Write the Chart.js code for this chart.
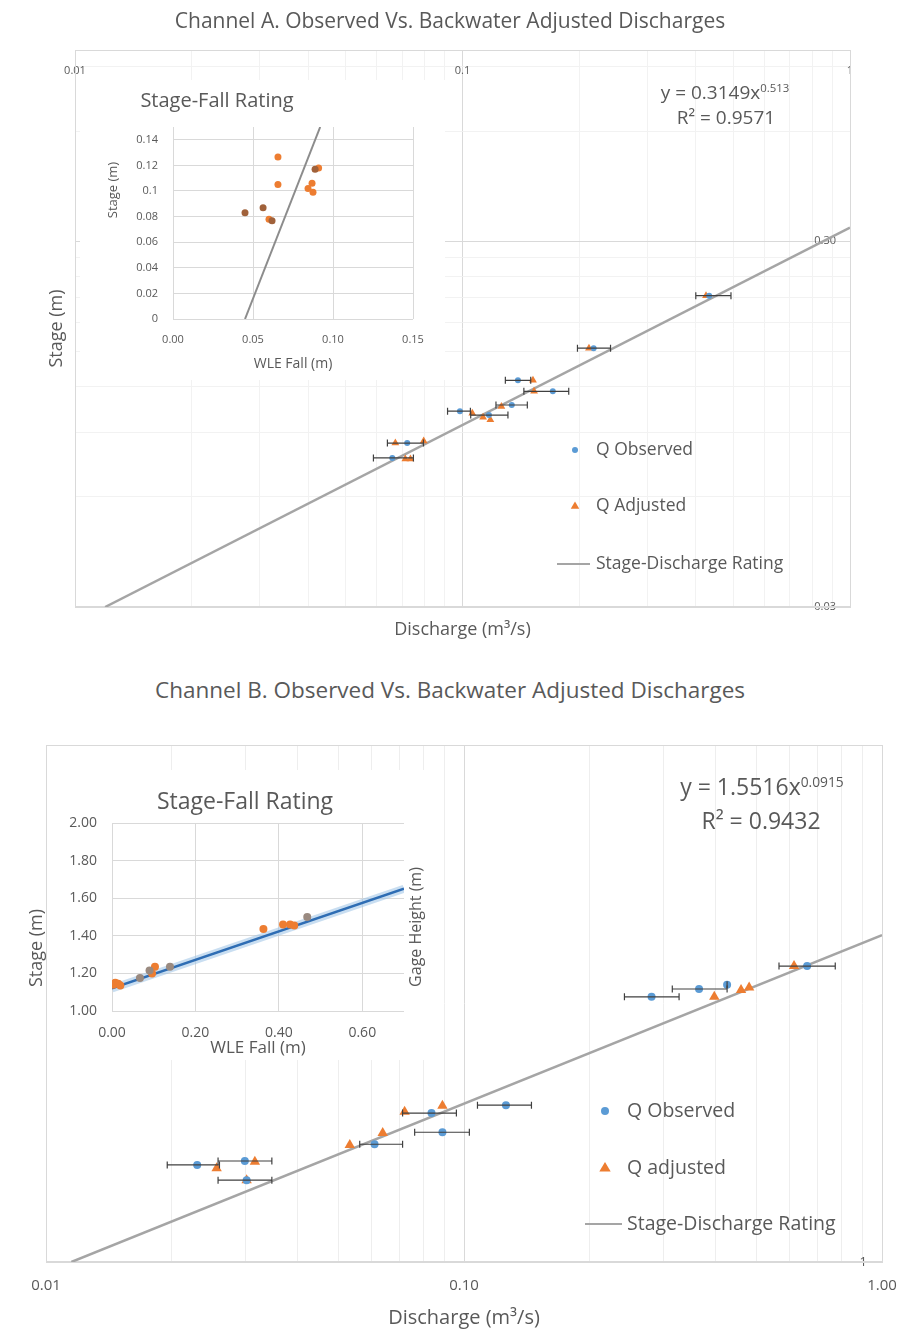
<!DOCTYPE html>
<html>
<head>
<meta charset="utf-8">
<script src="https://cdn.jsdelivr.net/npm/chart.js@4.4.1/dist/chart.umd.min.js"></script>
<style>
    body { margin: 0; background: #fff; font-family: 'Open Sans', sans-serif; color: #595959; }
    #page { position: relative; width: 899px; height: 1331px; overflow: hidden; }
    canvas { position: absolute; }
    .txt { position: absolute; text-align: center; white-space: nowrap; color: #595959; }
    .txt sup { font-size: 60%; vertical-align: 0.6em; }
    .rot { transform: rotate(-90deg); }
</style>
</head>
<body>
<div id="page">
    <canvas id="chartA" width="899" height="650" style="left:0;top:0"></canvas>
    <canvas id="insetA" width="365" height="300" style="left:80px;top:80px;background:#fff"></canvas>
    <div class="txt" style="left:100px;top:6px;width:700px;font-size:21px;line-height:28px">Channel A. Observed Vs. Backwater Adjusted Discharges</div>
    <div class="txt" style="left:117px;top:86px;width:200px;font-size:20px;line-height:28px">Stage-Fall Rating</div>
    <div class="txt rot" style="left:72px;top:182px;width:80px;font-size:13px;line-height:16px">Stage (m)</div>
    <div class="txt" style="left:615px;top:75px;width:220px;font-size:19px;line-height:26px">y = 0.3149x<sup>0.513</sup></div>
    <div class="txt" style="left:616px;top:104px;width:220px;font-size:19px;line-height:26px">R² = 0.9571</div>

    <canvas id="chartB" width="899" height="611" style="left:0;top:720px"></canvas>
    <canvas id="insetB" width="390" height="290" style="left:50px;top:770px;background:#fff"></canvas>
    <div class="txt" style="left:50px;top:674px;width:800px;font-size:22.5px;line-height:32px">Channel B. Observed Vs. Backwater Adjusted Discharges</div>
    <div class="txt" style="left:145px;top:784px;width:200px;font-size:23px;line-height:32px">Stage-Fall Rating</div>
    <div class="txt rot" style="left:340px;top:917px;width:150px;font-size:16px;line-height:20px">Gage Height (m)</div>
    <div class="txt rot" style="left:-15px;top:936px;width:100px;font-size:18px;line-height:24px">Stage (m)</div>
    <div class="txt" style="left:642px;top:767px;width:240px;font-size:23px;line-height:30px">y = 1.5516x<sup>0.0915</sup></div>
    <div class="txt" style="left:641px;top:805px;width:240px;font-size:23px;line-height:30px">R² = 0.9432</div>
</div>

<script>
// ---- Channel A data ----
const obsQA      = [0.433, 0.218, 0.139, 0.171, 0.134, 0.0985, 0.117, 0.0720, 0.0659];
const obsStageA  = [0.213, 0.153, 0.125, 0.1166, 0.107, 0.1029, 0.1004, 0.0842, 0.0767];
const obsLowA    = [0.400, 0.198, 0.129, 0.144, 0.122, 0.0915, 0.105, 0.0640, 0.0589];
const obsHighA   = [0.493, 0.241, 0.150, 0.188, 0.147, 0.1048, 0.131, 0.0793, 0.0747];

const adjQA      = [0.425, 0.212, 0.152, 0.153, 0.126, 0.113, 0.118, 0.106, 0.0671, 0.0794, 0.0712, 0.0734];
const adjStageA  = [0.213, 0.153, 0.125, 0.1166, 0.106, 0.0991, 0.0975, 0.1016, 0.0842, 0.0853, 0.0762, 0.0762];

const ratingQA     = [0.01196, 1.0];
const ratingStageA = [0.030, 0.327];

const qTicksA       = [0.01, 0.1, 1];
const qTickLabelsA  = ['0.01', '0.1', '1'];
const qMinorA       = [0.02, 0.03, 0.04, 0.05, 0.06, 0.07, 0.08, 0.09, 0.2, 0.3, 0.4, 0.5, 0.6, 0.7, 0.8, 0.9];
const stageTicksA   = [0.03, 0.3];
const stageLabelsA  = ['0.03', '0.30'];
const stageMinorA   = [0.06, 0.09, 0.12, 0.15, 0.18, 0.21, 0.24, 0.27, 0.6, 0.9];

// Channel A inset (stage-fall)
const fallA1  = [0.0656, 0.0656, 0.0869, 0.0844, 0.0875, 0.091, 0.060];
const stageF1 = [0.1265, 0.105, 0.106, 0.102, 0.099, 0.118, 0.078];
const fallA2  = [0.0888, 0.045, 0.0563, 0.0619];
const stageF2 = [0.117, 0.083, 0.087, 0.0767];
const fitFallA  = [0.045, 0.092];
const fitStageA = [0, 0.15];
const fallTicksA   = [0, 0.05, 0.1, 0.15];
const fallLabelsA  = ['0.00', '0.05', '0.10', '0.15'];
const sfTicksA     = [0, 0.02, 0.04, 0.06, 0.08, 0.1, 0.12, 0.14];
const sfLabelsA    = ['0', '0.02', '0.04', '0.06', '0.08', '0.1', '0.12', '0.14'];

// ---- Channel B data ----
const obsQB      = [0.662, 0.365, 0.426, 0.281, 0.126, 0.0836, 0.0888, 0.0611, 0.0230, 0.0299, 0.0302];
const obsStageB  = [1.487, 1.442, 1.450, 1.427, 1.234, 1.221, 1.190, 1.171, 1.139, 1.145, 1.116];
const obsLowB    = [0.567, 0.315, 0.426, 0.242, 0.1077, 0.0713, 0.0762, 0.0563, 0.0195, 0.0258, 0.0258];
const obsHighB   = [0.773, 0.426, 0.426, 0.327, 0.145, 0.0959, 0.103, 0.0713, 0.0260, 0.0347, 0.0347];

const adjQB      = [0.616, 0.397, 0.460, 0.481, 0.0721, 0.0888, 0.0639, 0.0533, 0.0256, 0.0316, 0.0302];
const adjStageB  = [1.487, 1.427, 1.440, 1.445, 1.223, 1.233, 1.189, 1.170, 1.134, 1.144, 1.116];

const ratingQB     = [0.0115, 1.0];
const ratingStageB = [1.00, 1.55];

const qTicksB      = [0.01, 0.1, 1];
const qTickLabelsB = ['0.01', '0.10', '1.00'];
const qMinorB      = [0.02, 0.03, 0.04, 0.05, 0.06, 0.07, 0.08, 0.09, 0.2, 0.3, 0.4, 0.5, 0.6, 0.7, 0.8, 0.9];
const stageTicksB  = [1, 2];
const stageLabelsB = ['1', ''];

// Channel B inset (stage-fall)
const fallB1  = [0.003, 0.008, 0.015, 0.020, 0.096, 0.103, 0.363, 0.410, 0.427, 0.437];
const stageG1 = [1.140, 1.150, 1.145, 1.135, 1.200, 1.235, 1.436, 1.460, 1.460, 1.455];
const fallB2  = [0.067, 0.090, 0.139, 0.468];
const stageG2 = [1.175, 1.215, 1.235, 1.500];
const fitFallB  = [0.0, 0.70];
const fitStageB = [1.12, 1.65];
const fallTicksB  = [0, 0.2, 0.4, 0.6];
const fallLabelsB = ['0.00', '0.20', '0.40', '0.60'];
const ghTicksB    = [1, 1.2, 1.4, 1.6, 1.8, 2];
const ghLabelsB   = ['1.00', '1.20', '1.40', '1.60', '1.80', '2.00'];

Chart.defaults.font.family = "'Open Sans', sans-serif";
Chart.defaults.color = '#595959';

const BLUE = '#5b9bd5';
const ORANGE = '#ed7d31';
const GRAY = '#a5a5a5';

function pts(xs, ys) {
    return xs.map((x, i) => ({ x: x, y: ys[i] }));
}

function setTicks(values) {
    return scale => { scale.ticks = values.map(v => ({ value: v })); };
}

function labelFor(values, labels) {
    return (val) => {
        const i = values.indexOf(val);
        return i >= 0 ? labels[i] : '';
    };
}

function gridColor(majors, major, minor) {
    return ctx => (ctx.tick && majors.includes(ctx.tick.value)) ? major : minor;
}

// Plot frame drawn behind the marks
const framePlugin = {
    id: 'frame',
    beforeDatasetsDraw(chart) {
        const { ctx, chartArea: a } = chart;
        ctx.save();
        ctx.strokeStyle = '#d9d9d9';
        ctx.lineWidth = 1;
        ctx.strokeRect(a.left + 0.5, a.top + 0.5, a.right - a.left, a.bottom - a.top);
        ctx.lineWidth = 2;
        ctx.beginPath();
        ctx.moveTo(a.left, a.bottom);
        ctx.lineTo(a.right, a.bottom);
        ctx.stroke();
        ctx.restore();
    }
};

// Horizontal error bars from errLow/errHigh on a dataset
const errorBarPlugin = {
    id: 'errorBars',
    afterDatasetsDraw(chart) {
        const { ctx } = chart;
        const xs = chart.scales.x, ys = chart.scales.y;
        chart.data.datasets.forEach(ds => {
            if (!ds.errLow) return;
            ctx.save();
            ctx.strokeStyle = '#404040';
            ctx.lineWidth = 1.2;
            ds.data.forEach((p, i) => {
                const y = ys.getPixelForValue(p.y);
                const x1 = xs.getPixelForValue(ds.errLow[i]);
                const x2 = xs.getPixelForValue(ds.errHigh[i]);
                ctx.beginPath();
                ctx.moveTo(x1, y); ctx.lineTo(x2, y);
                ctx.moveTo(x1, y - 3.5); ctx.lineTo(x1, y + 3.5);
                ctx.moveTo(x2, y - 3.5); ctx.lineTo(x2, y + 3.5);
                ctx.stroke();
            });
            ctx.restore();
        });
    }
};

// Legend drawn inside the plot area
const insideLegendPlugin = {
    id: 'insideLegend',
    afterDraw(chart, args, opts) {
        const { ctx } = chart;
        ctx.save();
        ctx.font = opts.fontSize + "px 'Open Sans', sans-serif";
        ctx.textBaseline = 'middle';
        opts.rows.forEach(row => {
            const ds = chart.data.datasets[row.ds];
            if (ds.showLine) {
                ctx.strokeStyle = ds.borderColor;
                ctx.lineWidth = 2;
                ctx.beginPath();
                ctx.moveTo(opts.lineX1, row.y);
                ctx.lineTo(opts.lineX2, row.y);
                ctx.stroke();
            } else {
                const r = ds.pointRadius;
                const x = opts.markerX;
                ctx.fillStyle = ds.backgroundColor;
                ctx.beginPath();
                if (ds.pointStyle === 'triangle') {
                    ctx.moveTo(x, row.y - r);
                    ctx.lineTo(x + r * 0.95, row.y + r * 0.6);
                    ctx.lineTo(x - r * 0.95, row.y + r * 0.6);
                    ctx.closePath();
                } else {
                    ctx.arc(x, row.y, r, 0, Math.PI * 2);
                }
                ctx.fill();
            }
            ctx.fillStyle = '#595959';
            ctx.fillText(ds.label, opts.textX, row.y);
        });
        ctx.restore();
    }
};

function mainDatasets(obsQ, obsStage, obsLow, obsHigh, adjQ, adjStage, rQ, rStage, rObs, rAdj, adjName) {
    return [
        {
            label: 'Q Observed',
            data: pts(obsQ, obsStage),
            errLow: obsLow,
            errHigh: obsHigh,
            pointStyle: 'circle',
            pointRadius: rObs,
            backgroundColor: BLUE,
            borderColor: BLUE,
            borderWidth: 0
        },
        {
            label: adjName,
            data: pts(adjQ, adjStage),
            pointStyle: 'triangle',
            pointRadius: rAdj,
            backgroundColor: ORANGE,
            borderColor: ORANGE,
            borderWidth: 0
        },
        {
            label: 'Stage-Discharge Rating',
            data: pts(rQ, rStage),
            showLine: true,
            pointRadius: 0,
            borderColor: GRAY,
            borderWidth: 2.5
        }
    ];
}

// Channel A main chart (discharge labels sit just under the top edge of the plot)
new Chart(document.getElementById('chartA'), {
    type: 'scatter',
    data: {
        datasets: mainDatasets(obsQA, obsStageA, obsLowA, obsHighA, adjQA, adjStageA,
            ratingQA, ratingStageA, 3, 4.5, 'Q Adjusted')
    },
    plugins: [framePlugin, errorBarPlugin, insideLegendPlugin],
    options: {
        responsive: false,
        animation: false,
        layout: { padding: { left: 42, top: 50, right: 0, bottom: 0 } },
        plugins: {
            legend: { display: false },
            tooltip: { enabled: false },
            insideLegend: {
                fontSize: 17.5, markerX: 575, lineX1: 557, lineX2: 590, textX: 596,
                rows: [{ ds: 0, y: 450 }, { ds: 1, y: 506 }, { ds: 2, y: 564 }]
            }
        },
        scales: {
            x: {
                type: 'logarithmic', position: { y: 0.95 }, min: 0.01, max: 1,
                afterBuildTicks: setTicks(qTicksA.concat(qMinorA)),
                ticks: { autoSkip: false, maxRotation: 0, padding: 6, font: { size: 11 },
                         callback: labelFor(qTicksA, qTickLabelsA) },
                grid: { drawTicks: false, color: gridColor(qTicksA, '#d9d9d9', '#f2f2f2') },
                border: { display: false }
            },
            x2: {
                type: 'logarithmic', position: 'bottom', min: 0.01, max: 1,
                afterFit: s => { s.height = 43; },
                ticks: { display: false },
                grid: { display: false },
                border: { display: false },
                title: { display: true, text: 'Discharge (m³/s)', font: { size: 18 },
                         padding: { top: 0, bottom: 9 } }
            },
            y: {
                type: 'logarithmic', position: 'left', min: 0.03, max: 1,
                afterBuildTicks: setTicks(stageTicksA.concat(stageMinorA)),
                afterFit: s => { s.width = 33; },
                ticks: { display: false },
                grid: { drawTicks: false, color: gridColor(stageTicksA, '#d9d9d9', '#f2f2f2') },
                border: { display: false },
                title: { display: true, text: 'Stage (m)', font: { size: 18 },
                         padding: { top: 4, bottom: 0 } }
            },
            y2: {
                type: 'logarithmic', position: 'right', min: 0.03, max: 1,
                afterBuildTicks: setTicks(stageTicksA),
                afterFit: s => { s.width = 49; },
                ticks: { mirror: true, padding: -14, font: { size: 11 },
                         callback: labelFor(stageTicksA, stageLabelsA) },
                grid: { display: false },
                border: { display: false }
            }
        }
    }
});

// Channel A inset
new Chart(document.getElementById('insetA'), {
    type: 'scatter',
    data: {
        datasets: [
            { data: pts(fallA2, stageF2), pointRadius: 3.5, backgroundColor: '#a0613a', borderWidth: 0 },
            { data: pts(fallA1, stageF1), pointRadius: 3.5, backgroundColor: ORANGE, borderWidth: 0 },
            { data: pts(fitFallA, fitStageA), showLine: true, pointRadius: 0,
              borderColor: '#8c8c8c', borderWidth: 2 }
        ]
    },
    options: {
        responsive: false,
        animation: false,
        layout: { padding: { left: 0, top: 47, right: 32, bottom: 5 } },
        plugins: { legend: { display: false }, tooltip: { enabled: false } },
        scales: {
            x: {
                type: 'linear', min: 0, max: 0.15,
                afterBuildTicks: setTicks(fallTicksA),
                afterFit: s => { s.height = 56; },
                ticks: { autoSkip: false, maxRotation: 0, padding: 14, font: { size: 11 },
                         callback: labelFor(fallTicksA, fallLabelsA) },
                grid: { drawTicks: false, color: '#d9d9d9' },
                border: { display: false },
                title: { display: true, text: 'WLE Fall (m)', font: { size: 14 },
                         padding: { top: 0, bottom: 3 } }
            },
            y: {
                type: 'linear', min: 0, max: 0.15,
                afterBuildTicks: setTicks(sfTicksA),
                afterFit: s => { s.width = 93; },
                ticks: { padding: 15, font: { size: 11 },
                         callback: labelFor(sfTicksA, sfLabelsA) },
                grid: { drawTicks: false, color: '#d9d9d9' },
                border: { display: false }
            }
        }
    }
});

// Channel B main chart
new Chart(document.getElementById('chartB'), {
    type: 'scatter',
    data: {
        datasets: mainDatasets(obsQB, obsStageB, obsLowB, obsHighB, adjQB, adjStageB,
            ratingQB, ratingStageB, 4, 6, 'Q adjusted')
    },
    plugins: [framePlugin, errorBarPlugin, insideLegendPlugin],
    options: {
        responsive: false,
        animation: false,
        layout: { padding: { left: 0, top: 25, right: 0, bottom: 0 } },
        plugins: {
            legend: { display: false },
            tooltip: { enabled: false },
            insideLegend: {
                fontSize: 19.5, markerX: 605, lineX1: 585, lineX2: 622, textX: 627,
                rows: [{ ds: 0, y: 391 }, { ds: 1, y: 448 }, { ds: 2, y: 504 }]
            }
        },
        scales: {
            x: {
                type: 'logarithmic', position: 'bottom', min: 0.01, max: 1,
                afterBuildTicks: setTicks(qTicksB.concat(qMinorB)),
                afterFit: s => { s.height = 69; },
                ticks: { autoSkip: false, maxRotation: 0, padding: 15, font: { size: 15 },
                         callback: labelFor(qTicksB, qTickLabelsB) },
                grid: { drawTicks: false, color: gridColor(qTicksB, '#d9d9d9', '#eeeeee') },
                border: { display: false },
                title: { display: true, text: 'Discharge (m³/s)', font: { size: 20 },
                         padding: { top: 0, bottom: 1 } }
            },
            y: {
                type: 'logarithmic', position: 'left', min: 1, max: 2,
                afterBuildTicks: setTicks(stageTicksB),
                afterFit: s => { s.width = 46; },
                ticks: { display: false },
                grid: { drawTicks: false, color: '#d9d9d9' },
                border: { display: false }
            },
            y2: {
                type: 'logarithmic', position: 'right', min: 1, max: 2,
                afterBuildTicks: setTicks([stageTicksB[0]]),
                afterFit: s => { s.width = 17; },
                ticks: { mirror: true, padding: -15, font: { size: 13 },
                         callback: labelFor(stageTicksB, stageLabelsB) },
                grid: { display: false },
                border: { display: false }
            }
        }
    }
});

// Channel B inset
new Chart(document.getElementById('insetB'), {
    type: 'scatter',
    data: {
        datasets: [
            { data: pts(fallB2, stageG2), pointRadius: 4, backgroundColor: '#9a8a80', borderWidth: 0 },
            { data: pts(fallB1, stageG1), pointRadius: 4, backgroundColor: ORANGE, borderWidth: 0 },
            { data: pts(fitFallB, fitStageB), showLine: true, pointRadius: 0,
              borderColor: '#2e6db4', borderWidth: 2.5 },
            { data: pts(fitFallB, fitStageB), showLine: true, pointRadius: 0,
              borderColor: 'rgba(157,195,230,0.55)', borderWidth: 8 }
        ]
    },
    options: {
        responsive: false,
        animation: false,
        layout: { padding: { left: 0, top: 53, right: 36, bottom: 0 } },
        plugins: { legend: { display: false }, tooltip: { enabled: false } },
        scales: {
            x: {
                type: 'linear', min: 0, max: 0.7,
                afterBuildTicks: setTicks(fallTicksB),
                afterFit: s => { s.height = 49; },
                ticks: { autoSkip: false, maxRotation: 0, padding: 14, font: { size: 14 },
                         callback: labelFor(fallTicksB, fallLabelsB) },
                grid: { drawTicks: false, color: '#d9d9d9' },
                border: { display: false },
                title: { display: true, text: 'WLE Fall (m)', font: { size: 17 },
                         padding: { top: 0, bottom: 2 } }
            },
            y: {
                type: 'linear', min: 1, max: 2,
                afterBuildTicks: setTicks(ghTicksB),
                afterFit: s => { s.width = 62; },
                ticks: { padding: 15, font: { size: 14 },
                         callback: labelFor(ghTicksB, ghLabelsB) },
                grid: { drawTicks: false, color: '#d9d9d9' },
                border: { display: false }
            }
        }
    }
});
</script>
</body>
</html>
